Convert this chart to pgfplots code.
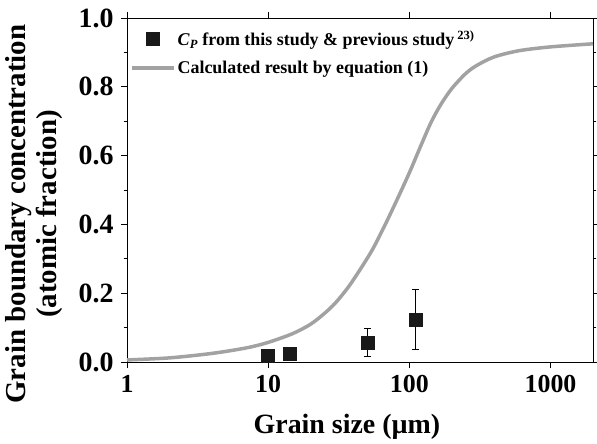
\documentclass[border=0pt]{standalone}
\usepackage{pgfplots}
\pgfplotsset{compat=1.18}
\usepackage{fontspec}
\setmainfont{Liberation Serif}
\definecolor{curvegray}{RGB}{162,162,162}
\begin{document}
\begin{tikzpicture}
\path[use as bounding box] (-127bp,-82bp) rectangle (470bp,362bp);
\begin{axis}[
  at={(0,0)}, anchor=south west,
  scale only axis, width=466bp, height=344bp,
  xmode=log, xmin=1, xmax=2000, ymin=0, ymax=1.0,
  log basis x=10,
  xtick={1,10,100,1000}, xticklabels={1,10,100,1000},
  ytick={0,0.2,0.4,0.6,0.8,1.0},
  minor ytick={0.1,0.3,0.5,0.7,0.9},
  /pgf/number format/assume math mode=true,
  tick align=outside,
  major tick length=6bp, minor tick length=3.5bp,
  tick style={black, line width=0.6bp},
  axis line style={line width=0.8bp},
  xticklabel style={font=\fontsize{26}{28}\selectfont\bfseries, yshift=-4bp},
  yticklabel style={font=\fontsize{28}{30}\selectfont\bfseries, xshift=-4bp,
    /pgf/number format/.cd,fixed,fixed zerofill,precision=1},
  xlabel={Grain size (µm)},
  ylabel={Grain boundary concentration\\(atomic fraction)},
  xlabel style={font=\fontsize{28}{30}\selectfont\bfseries,
    at={(axis description cs:0.472,-0.208)}, anchor=base},
  ylabel style={font=\fontsize{29}{31}\selectfont\bfseries, align=center,
    at={(axis description cs:-0.130,0.43)}, anchor=south},
  legend style={at={(0.0,0.975)}, anchor=north west, draw=none, fill=none,
    font=\fontsize{18}{21}\selectfont\bfseries, row sep=10bp,
    cells={anchor=west}},
  legend image code/.code={\draw[mark repeat=2,mark phase=2,#1] plot coordinates {(0cm,0cm) (0.74cm,0cm) (1.48cm,0cm)};},
  clip=true,
]
\addplot[only marks, mark=square*, mark size=6.5bp, black!90,
  error bars/.cd, y dir=both, y explicit, error mark options={rotate=90, mark size=3.5bp, line width=0.6bp, black},
  error bar style={line width=0.6bp, black}]
  coordinates {
  (10,0.018) +- (0,0.004)
  (14.2,0.023) +- (0,0.006)
  (50.6,0.057) +- (0,0.040)
  (111,0.124) +- (0,0.087)
  };
\addlegendentry{\textit{C}\textsubscript{\textit{P}} from this study \& previous study\,\textsuperscript{23)}}
\addplot[curvegray, line width=3.5bp, smooth] coordinates {
  (1,0.006) (2,0.012) (4,0.025) (7,0.041) (10,0.057) (15,0.083)
  (20,0.110) (25,0.141) (30,0.172) (37,0.218) (45,0.270) (55,0.328)
  (67,0.397) (81,0.468) (100,0.550) (121,0.630) (143,0.698) (168,0.750)
  (200,0.795) (250,0.838) (300,0.862) (400,0.887) (600,0.905)
  (1000,0.916) (2000,0.925)
};
\addlegendentry{Calculated result by equation (1)}
\end{axis}
\end{tikzpicture}
\end{document}
